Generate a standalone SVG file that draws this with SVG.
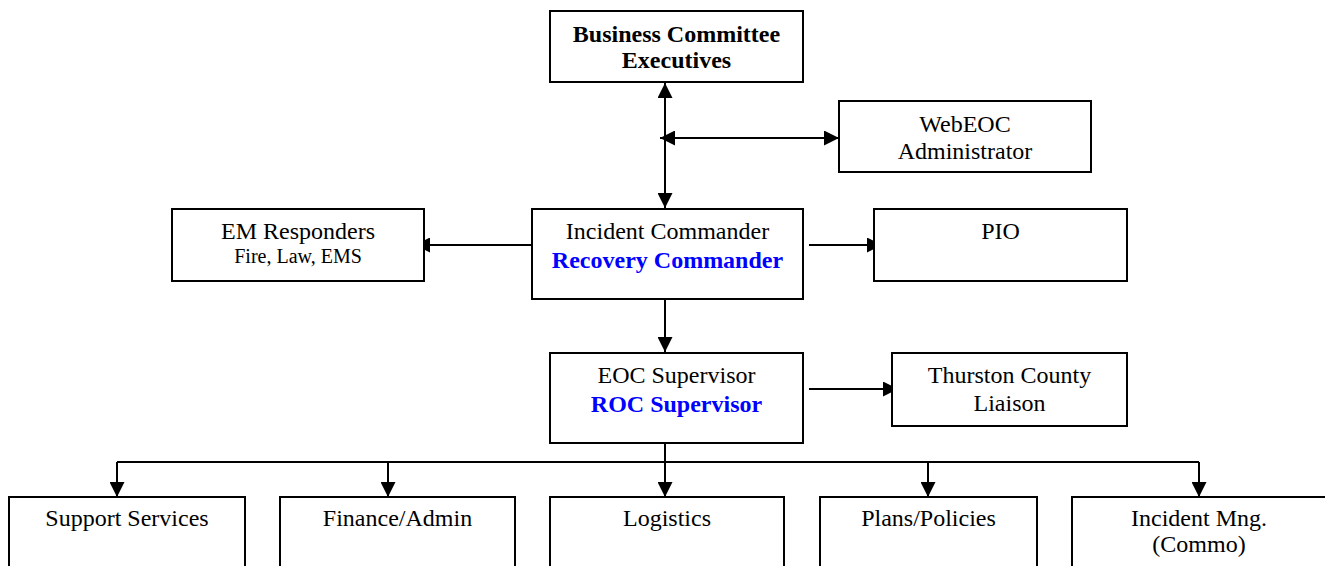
<svg xmlns="http://www.w3.org/2000/svg" width="1325" height="566" viewBox="0 0 1325 566">
<style>
.box{fill:#fff;stroke:#000;stroke-width:2}
.t{font-family:"Liberation Serif","Times New Roman",serif;font-size:24px;fill:#000;text-anchor:middle}
.s{font-size:20px}
.b{font-weight:bold}
.blue{fill:#0000ff;font-weight:bold}
.ln{stroke:#000;stroke-width:2;fill:none}
</style>
<defs>
<marker id="ah" markerUnits="userSpaceOnUse" markerWidth="15" markerHeight="15" refX="15" refY="7.5" orient="auto-start-reverse" viewBox="0 0 15 15">
<path d="M0,0 L15,7.5 L0,15 Z" fill="#000"/>
</marker>
</defs>
<g id="connectors">
<line class="ln" x1="665" y1="83" x2="665" y2="208" marker-start="url(#ah)" marker-end="url(#ah)"/>
<line class="ln" x1="660" y1="138" x2="839" y2="138" marker-start="url(#ah)" marker-end="url(#ah)"/>
<line class="ln" x1="540" y1="245" x2="415" y2="245" marker-end="url(#ah)"/>
<line class="ln" x1="809" y1="245" x2="882" y2="245" marker-end="url(#ah)"/>
<line class="ln" x1="665" y1="299" x2="665" y2="352" marker-end="url(#ah)"/>
<line class="ln" x1="809" y1="389" x2="898" y2="389" marker-end="url(#ah)"/>
<line class="ln" x1="665" y1="443" x2="665" y2="497" marker-end="url(#ah)"/>
<line class="ln" x1="117" y1="462" x2="1199" y2="462"/>
<line class="ln" x1="117" y1="462" x2="117" y2="497" marker-end="url(#ah)"/>
<line class="ln" x1="388" y1="462" x2="388" y2="497" marker-end="url(#ah)"/>
<line class="ln" x1="928" y1="462" x2="928" y2="497" marker-end="url(#ah)"/>
<line class="ln" x1="1199" y1="462" x2="1199" y2="497" marker-end="url(#ah)"/>
</g>
<g id="business">
<rect class="box" x="550" y="11" width="253" height="71"/>
<text class="t b" x="676.5" y="42">Business Committee</text>
<text class="t b" x="676.5" y="68">Executives</text>
</g>
<g id="webeoc">
<rect class="box" x="839" y="101" width="252" height="71"/>
<text class="t" x="965" y="132">WebEOC</text>
<text class="t" x="965" y="159">Administrator</text>
</g>
<g id="em">
<rect class="box" x="172" y="209" width="252" height="72"/>
<text class="t" x="298" y="239">EM Responders</text>
<text class="t s" x="298" y="263">Fire, Law, EMS</text>
</g>
<g id="ic">
<rect class="box" x="532" y="209" width="271" height="90"/>
<text class="t" x="667.5" y="239">Incident Commander</text>
<text class="t blue" x="667.5" y="268">Recovery Commander</text>
</g>
<g id="pio">
<rect class="box" x="874" y="209" width="253" height="72"/>
<text class="t" x="1000.5" y="239">PIO</text>
</g>
<g id="eoc">
<rect class="box" x="550" y="353" width="253" height="90"/>
<text class="t" x="676.5" y="383">EOC Supervisor</text>
<text class="t blue" x="676.5" y="412">ROC Supervisor</text>
</g>
<g id="thurston">
<rect class="box" x="892" y="353" width="235" height="73"/>
<text class="t" x="1009.5" y="383">Thurston County</text>
<text class="t" x="1009.5" y="411">Liaison</text>
</g>
<g id="support">
<rect class="box" x="9" y="497" width="236" height="100"/>
<text class="t" x="127" y="526">Support Services</text>
</g>
<g id="finance">
<rect class="box" x="280" y="497" width="235" height="100"/>
<text class="t" x="397.5" y="526">Finance/Admin</text>
</g>
<g id="logistics">
<rect class="box" x="550" y="497" width="234" height="100"/>
<text class="t" x="667" y="526">Logistics</text>
</g>
<g id="plans">
<rect class="box" x="820" y="497" width="217" height="100"/>
<text class="t" x="928.5" y="526">Plans/Policies</text>
</g>
<g id="incident">
<rect class="box" x="1072" y="497" width="270" height="100"/>
<text class="t" x="1199" y="526">Incident Mng.</text>
<text class="t" x="1199" y="552">(Commo)</text>
</g>
</svg>
